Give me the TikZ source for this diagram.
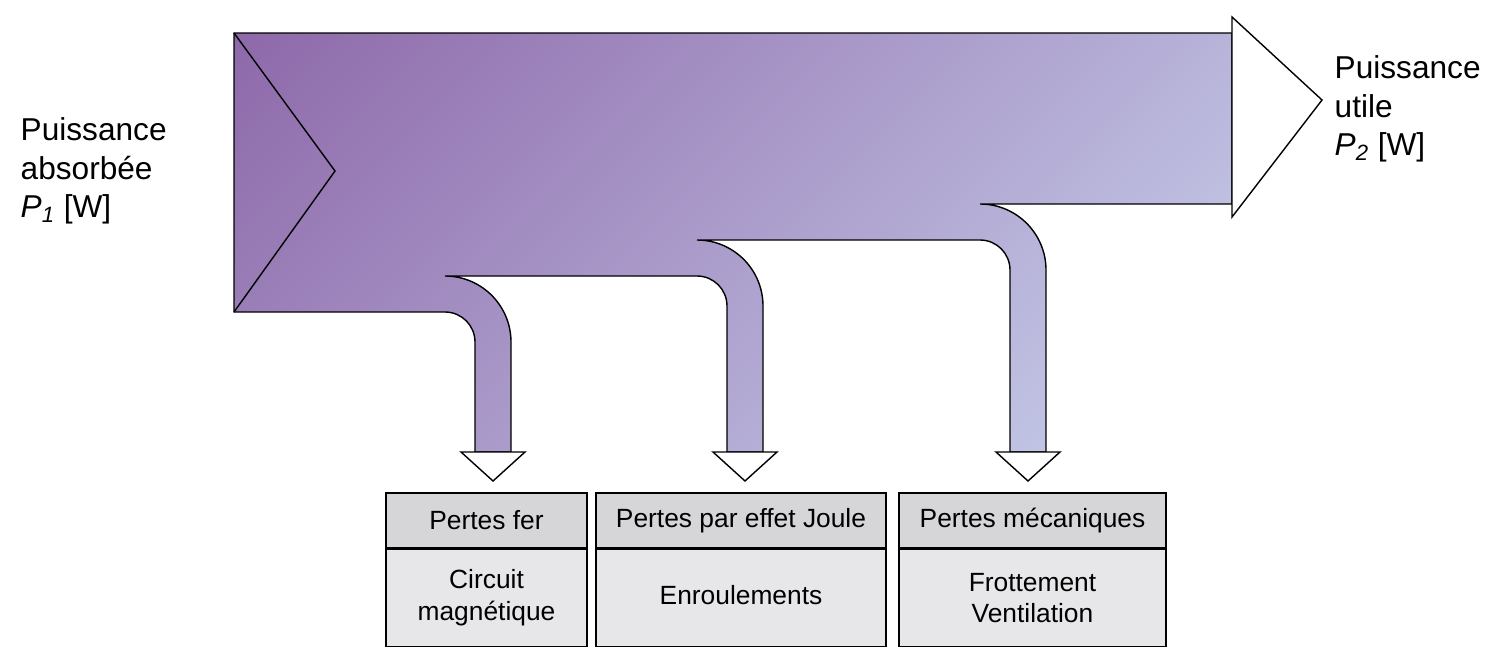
\documentclass[tikz,border=0pt]{standalone}
\usepackage{fontspec}
\setmainfont{Liberation Sans}
\usetikzlibrary{positioning}

\definecolor{flowdark}{RGB}{142,105,170}
\definecolor{flowlight}{RGB}{193,196,228}
\definecolor{headgray}{RGB}{214,214,217}
\definecolor{bodygray}{RGB}{231,231,234}
\pgfdeclareverticalshading{flowshade}{100bp}{color(0bp)=(flowlight); color(34.6bp)=(flowlight); color(74.2bp)=(flowdark); color(100bp)=(flowdark)}

\tikzset{
  losshead/.style={draw,fill=headgray,minimum height=1.1cm,inner sep=0pt,font=\fontsize{15}{18}\selectfont},
  lossbody/.style={draw,fill=bodygray,minimum height=1.94cm,inner sep=0pt,align=center,font=\fontsize{15}{18}\selectfont},
  powertext/.style={align=left,inner sep=0pt,font=\fontsize{18}{22}\selectfont},
  tiphead/.style={draw,fill=white,line join=miter}
}

\begin{document}
\begin{tikzpicture}[x=0.02cm,y=0.02cm,line width=0.8pt]
        \useasboundingbox (0,0) rectangle (1504,-670);

        % flow band with the three loss branches
        \def\ro{66}
        \def\ri{30}
        \def\flowpath{(234,-33) -- (1232,-33) -- (1232,-204)
            -- (980,-204) arc[start angle=90,end angle=0,radius=\ro] -- (1046,-452)
            -- (1010,-452) -- (1010,-270) arc[start angle=0,end angle=90,radius=\ri]
            -- (697,-240) arc[start angle=90,end angle=0,radius=\ro] -- (763,-452)
            -- (727,-452) -- (727,-306) arc[start angle=0,end angle=90,radius=\ri]
            -- (445,-276) arc[start angle=90,end angle=0,radius=\ro] -- (511,-452)
            -- (475,-452) -- (475,-342) arc[start angle=0,end angle=90,radius=\ri]
            -- (234,-312) -- cycle}
        \begin{scope}
            \clip \flowpath;
            \shade[shading=flowshade,shading angle=45] (228,308) rectangle (1328,-792);
        \end{scope}
        \draw \flowpath;
        \draw (234,-33) -- (335,-171) -- (234,-312);

        % arrow heads
        \draw[tiphead] (1232,-17) -- (1322,-100) coordinate (tip) -- (1232,-217) -- cycle;
        \foreach \c in {493,745,1028}
            \draw[tiphead] (\c-32,-452) -- (\c+32,-452) -- (\c,-481) -- cycle;

        \node[powertext,anchor=west] (absorbee) at (20,-171) {Puissance\\absorbée\\\textit{P\textsubscript{1}} [W]};
        \node[powertext,anchor=west] (utile) at (1334,-109) {Puissance\\utile\\\textit{P\textsubscript{2}} [W]};

        % loss boxes
        \node[losshead,minimum width=4.02cm] (fer) at (486.5,-520.5) {Pertes fer};
        \node[lossbody,minimum width=4.02cm,below=0pt of fer] (ferbody) {Circuit\\magnétique};
        \node[losshead,minimum width=5.8cm] (joule) at (741,-520.5) {Pertes par effet Joule};
        \node[lossbody,minimum width=5.8cm,below=0pt of joule] (joulebody) {Enroulements\strut};
        \node[losshead,minimum width=5.34cm] (meca) at (1032.5,-520.5) {Pertes mécaniques};
        \node[lossbody,minimum width=5.34cm,below=0pt of meca] (mecabody) {Frottement\\Ventilation};
\end{tikzpicture}
\end{document}
